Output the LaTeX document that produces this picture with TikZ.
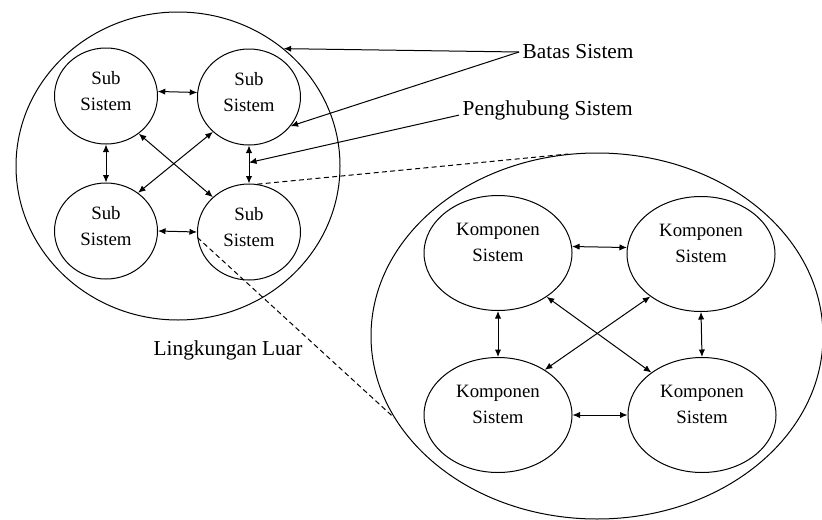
\documentclass[tikz,border=0pt]{standalone}
\usepackage{fontspec}
\setmainfont{Liberation Serif}
\usetikzlibrary{arrows.meta}
\usetikzlibrary{shapes.geometric}
\tikzset{subbox/.style = {draw, ellipse, semithick, inner sep=0pt,
                          minimum width=61.8pt, minimum height=57.6pt}}
\tikzset{compbox/.style = {draw, ellipse, semithick, inner sep=0pt,
                           minimum width=88.8pt, minimum height=69pt}}
\tikzset{boxtext/.style = {align=center, inner sep=1pt,
                           font=\fontsize{11.3}{15.5}\selectfont}}
\tikzset{>={Latex[length=4.5pt, width=3.8pt]}}
\tikzset{link/.style = {<->, semithick}}
\tikzset{lbl/.style = {inner sep=2pt, font=\fontsize{12.8}{15}\selectfont}}

\begin{document}
\begin{tikzpicture}[x=0.6pt, y=-0.6pt]
    \useasboundingbox (0, 0) rectangle (822, 519);
    \clip (0, 0) rectangle (822, 519);

    \node [draw, ellipse, semithick, minimum width=194.4pt, minimum height=184.8pt] (sys) at (178, 166) {};
    \node [subbox] (s1) at (106, 96) {};
    \node [subbox] (s2) at (249, 97) {};
    \node [subbox] (s3) at (106, 231) {};
    \node [subbox] (s4) at (249, 232) {};
    \node [boxtext] (s1t) at ([yshift=3pt]s1.center) {Sub\\Sistem};
    \node [boxtext] (s2t) at ([yshift=3pt]s2.center) {Sub\\Sistem};
    \node [boxtext] (s3t) at ([yshift=3pt]s3.center) {Sub\\Sistem};
    \node [boxtext] (s4t) at ([yshift=3pt]s4.center) {Sub\\Sistem};

    \draw [link] (s1.5) -- (s2.175);
    \draw [link] (s3.east) -- (s4.west);
    \draw [link] (s1.south) -- (s3.north);
    \draw [link] (s2.south) -- (s4.north) coordinate [pos=0.45] (hubpt);
    \draw [link] (s1.-49) -- (s4.136);
    \draw [link] (s2.224) -- (s3.50);

    \node [draw, ellipse, semithick, minimum width=271.2pt, minimum height=219.6pt] (env) at (597, 336) {};
    \node [compbox] (k1) at (498, 253) {};
    \node [compbox] (k2) at (701, 254) {};
    \node [compbox] (k3) at (498, 415) {};
    \node [compbox] (k4) at (702, 415) {};
    \node [boxtext] (k1t) at ([yshift=6.5pt]k1.center) {Komponen\\Sistem};
    \node [boxtext] (k2t) at ([yshift=6.5pt]k2.center) {Komponen\\Sistem};
    \node [boxtext] (k3t) at ([yshift=6.5pt]k3.center) {Komponen\\Sistem};
    \node [boxtext] (k4t) at ([yshift=6.5pt]k4.center) {Komponen\\Sistem};

    \draw [link] (k1.5) -- (k2.175);
    \draw [link] (k3.east) -- (k4.west);
    \draw [link] (k1.south) -- (k3.north);
    \draw [link] (k2.south) -- (k4.north);
    \draw [link] (k1.-42) -- (k4.140);
    \draw [link] (k2.220) -- (k3.44);

    \draw [semithick, dash pattern=on 3pt off 2pt] (s4.80) -- (env.99);
    \draw [semithick, dash pattern=on 3pt off 2pt] (s4.186) -- (env.202);

    \node [lbl, right] (batas) at (519, 52) {Batas Sistem};
    \node [lbl, right] (hub) at (459, 110) {Penghubung Sistem};
    \node [lbl] (outer) at (228, 350) {Lingkungan Luar};

    \draw [->, semithick] (batas.west) -- (sys.48);
    \draw [->, semithick] (batas.west) -- (s2.-35);
    \draw [->, semithick] (hub.base west) -- (hubpt);
\end{tikzpicture}
\end{document}
